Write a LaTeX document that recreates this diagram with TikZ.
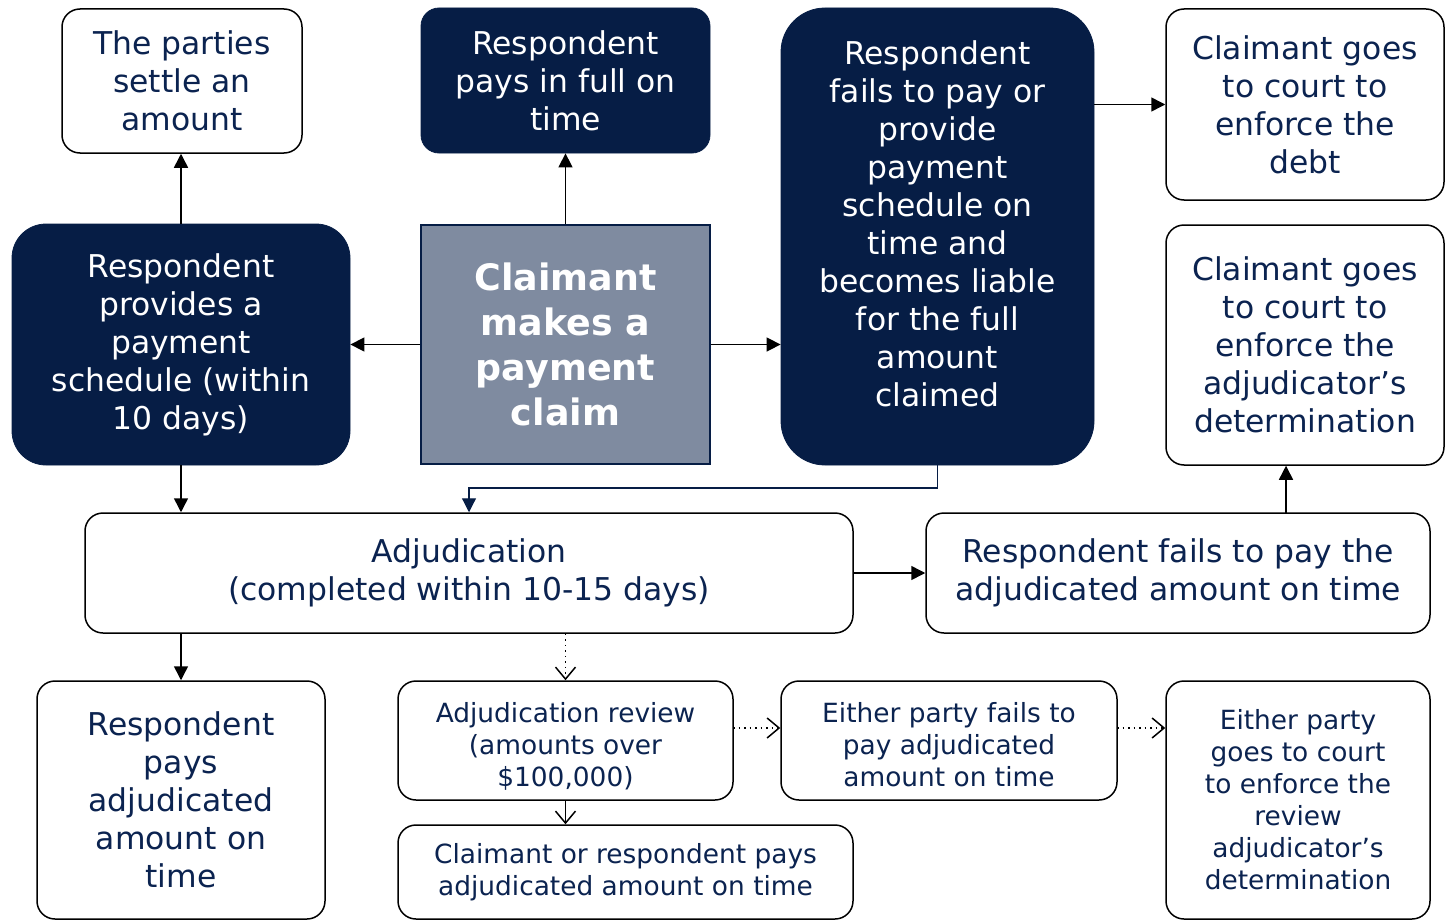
\documentclass[tikz,border=0pt]{standalone}
\usepackage{fontspec}
\setmainfont{DejaVu Sans}
\usetikzlibrary{arrows.meta}
\definecolor{navy}{HTML}{061D45}
\definecolor{ink}{HTML}{0B2350}
\definecolor{slate}{HTML}{7F8BA0}

\tikzset{
  box/.style={draw=black, line width=0.75pt, fill=white, text=ink, align=center,
    inner sep=0pt, rounded corners=9pt},
  darkbox/.style={draw=navy, fill=navy, text=white, align=center, inner sep=0pt},
  claimbox/.style={draw=navy, line width=0.75pt, fill=slate, text=white, align=center,
    inner sep=0pt, font=\fontsize{18.2}{22.5}\selectfont\bfseries},
  big/.style={font=\fontsize{15.7}{19}\selectfont},
  small/.style={font=\fontsize{13.2}{16}\selectfont},
  arr/.style={line width=0.75pt, -{Triangle[length=7pt,width=7pt]}},
  link/.style={draw=navy, line width=0.6pt, -{Triangle[length=7pt,width=7pt]}},
  dotarr/.style={line width=0.75pt, dotted, -{Straight Barb[length=6pt,width=10pt]}},
  openarr/.style={line width=0.75pt, -{Straight Barb[length=6pt,width=10pt]}},
}

\begin{document}
\begin{tikzpicture}[x=0.5pt, y=-0.5pt]
\useasboundingbox (0,0) rectangle (1445,920);

% top row
\node[box, big, minimum width=120pt, minimum height=72pt] (A) at (182,81)
  {The parties\\settle an\\amount};
\node[darkbox, big, rounded corners=9pt, minimum width=144.5pt, minimum height=72.5pt] (B) at (565.5,80.5)
  {Respondent\\pays in full on\\time};
\node[darkbox, rounded corners=22pt, minimum width=156.5pt, minimum height=228.5pt] (C) at (937.5,236.5) {};
\node[text=white, big, align=center, inner sep=0pt] (Ctext) at (937.5,224)
  {Respondent\\fails to pay or\\provide\\payment\\schedule on\\time and\\becomes liable\\for the full\\amount\\claimed};
\node[box, big, minimum width=139pt, minimum height=95.5pt] (D) at (1305,104.5)
  {Claimant goes\\to court to\\enforce the\\debt};
\node[box, big, minimum width=139pt, minimum height=120pt] (E) at (1305,345)
  {Claimant goes\\to court to\\enforce the\\adjudicator’s\\determination};

% middle row
\node[darkbox, big, rounded corners=17pt, minimum width=169pt, minimum height=120.5pt] (F) at (181,344.5)
  {Respondent\\provides a\\payment\\schedule (within\\10 days)};
\node[claimbox, minimum width=144.5pt, minimum height=119.5pt] (G) at (565.5,344.5)
  {Claimant\\makes a\\payment\\claim};

% adjudication row
\node[box, big, minimum width=384pt, minimum height=60pt] (H) at (469,573)
  {Adjudication\\(completed within 10-15 days)};
\node[box, big, minimum width=252pt, minimum height=60pt] (I) at (1178,573)
  {Respondent fails to pay the\\adjudicated amount on time};

% bottom row
\node[box, big, minimum width=144pt, minimum height=119pt] (J) at (181,800)
  {Respondent\\pays\\adjudicated\\amount on\\time};
\node[box, small, minimum width=167.5pt, minimum height=59.5pt] (K) at (565.5,740.5) {};
\node[text=ink, small, align=center, inner sep=0pt] (Ktext) at (565.5,746)
  {Adjudication review\\(amounts over\\\$100,000)};
\node[box, small, minimum width=168pt, minimum height=59.5pt] (L) at (949,740.5) {};
\node[text=ink, small, align=center, inner sep=0pt] (Ltext) at (949,744.5)
  {Either party fails to\\pay adjudicated\\amount on time};
\node[box, small, minimum width=132pt, minimum height=119pt] (M) at (1298,800)
  {Either party\\goes to court\\to enforce the\\review\\adjudicator’s\\determination};
\node[box, small, minimum width=227.5pt, minimum height=47pt] (N) at (625.5,872)
  {Claimant or respondent pays\\adjudicated amount on time};

% connectors
\draw[arr] (F.north) -- (F.north |- A.south);
\draw[arr] (G.north) -- (B.south);
\draw[arr] (G.west) -- (F.east);
\draw[arr] (G.east) -- (G.east -| C.west);
\draw[arr] (C.east |- D.west) -- (D.west);
\draw[arr] (F.south) -- (F.south |- H.north);
\draw[link] (C.south) -- (C.south |- 0,488) -| (H.north);
\draw[arr] (H.east) -- (I.west);
\coordinate (ItoE) at (1286,513);
\draw[arr] (ItoE) -- (ItoE |- E.south);
\draw[arr] (J.north |- H.south) -- (J.north);
\draw[dotarr] (K.north |- H.south) -- (K.north);
\coordinate (KR) at (733,728);
\draw[dotarr] (KR) -- (KR -| L.west);
\coordinate (LR) at (1117,728);
\draw[dotarr] (LR) -- (LR -| M.west);
\draw[openarr] (K.south) -- (K.south |- N.north);
\end{tikzpicture}
\end{document}
